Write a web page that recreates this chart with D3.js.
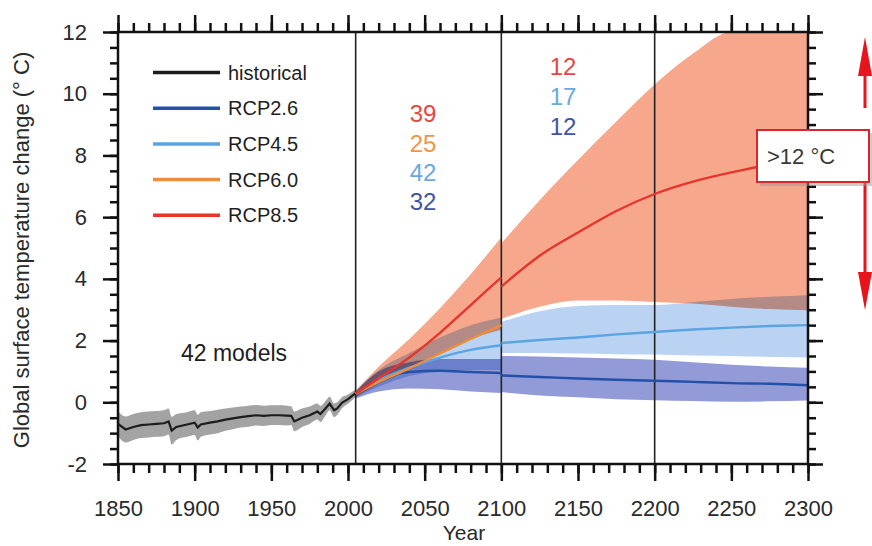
<!DOCTYPE html>
<html>
<head>
<meta charset="utf-8">
<script src="https://cdnjs.cloudflare.com/ajax/libs/d3/7.8.5/d3.min.js"></script>
<style>
body { margin:0; background:#fff; }
svg { display:block; font-family:"Liberation Sans", Arial, Helvetica, sans-serif; }
</style>
</head>
<body>
<div id="chart"></div>
<script>
// historical run (multi-model mean and half spread of the grey band)
var histYears  = [1850,1855,1860,1865,1870,1875,1880,1883,1885,1888,1895,1900,1902,1904,1910,1915,1920,1925,1930,1935,1940,1945,1950,1955,1960,1963,1965,1970,1975,1980,1982,1985,1988,1991,1993,1996,2000,2005];
var histMean   = [-0.7,-0.88,-0.8,-0.74,-0.72,-0.7,-0.68,-0.62,-0.92,-0.8,-0.72,-0.66,-0.82,-0.72,-0.66,-0.62,-0.56,-0.52,-0.48,-0.45,-0.42,-0.44,-0.42,-0.42,-0.43,-0.44,-0.62,-0.5,-0.42,-0.3,-0.38,-0.22,-0.04,-0.26,-0.2,-0.02,0.1,0.3];
var histSpread = [0.4,0.42,0.42,0.42,0.42,0.42,0.42,0.42,0.45,0.42,0.4,0.4,0.42,0.4,0.38,0.38,0.36,0.35,0.34,0.34,0.33,0.33,0.32,0.32,0.32,0.3,0.32,0.3,0.28,0.26,0.26,0.24,0.22,0.22,0.2,0.18,0.15,0.12];

// 2005-2100
var projYears  = [2005,2020,2040,2060,2080,2100];
var rcp26Mean  = [0.28,0.72,0.98,1.02,0.98,0.95];
var rcp45Mean  = [0.28,0.72,1.12,1.45,1.7,1.85];
var rcp60Mean  = [0.28,0.66,1.1,1.58,2.05,2.5];
var rcp85Mean  = [0.28,0.78,1.45,2.25,3.15,4.05];
var rcp26Lo    = [0.12,0.35,0.45,0.42,0.35,0.3];
var rcp26Hi    = [0.35,1.0,1.3,1.4,1.4,1.4];
var rcp45Lo    = [0.15,0.5,0.85,1.0,1.05,1.05];
var rcp45Hi    = [0.35,1.05,1.6,2.1,2.5,2.75];
var rcp85Lo    = [0.18,0.6,1.05,1.6,2.05,2.35];
var rcp85Hi    = [0.38,1.15,2.05,3.05,4.15,5.35];

// 2100-2300 extensions
var extYears    = [2100,2125,2150,2175,2200,2225,2250,2275,2300];
var ext26Mean   = [0.87,0.82,0.77,0.73,0.7,0.66,0.62,0.6,0.55];
var ext26Lo     = [0.33,0.22,0.16,0.1,0.07,0.04,0.02,0.03,0.06];
var ext26Hi     = [1.5,1.48,1.45,1.42,1.38,1.3,1.22,1.16,1.12];
var ext45Mean   = [1.92,2.02,2.1,2.2,2.28,2.36,2.42,2.47,2.5];
var ext45Lo     = [1.6,1.6,1.58,1.56,1.55,1.52,1.5,1.47,1.45];
var ext45Hi     = [2.6,2.95,3.12,3.15,3.15,3.25,3.35,3.42,3.47];
var ext85Mean   = [3.75,4.75,5.5,6.2,6.75,7.15,7.45,7.7,7.85];
var ext85Lo     = [2.7,3.1,3.3,3.3,3.25,3.2,3.1,3.02,2.98];
var ext85Hi     = [5.15,6.55,7.85,9.1,10.3,11.3,12.0,12.0,12.0];

var periodLines = [2005,2100,2200];
var legendNames = ["historical","RCP2.6","RCP4.5","RCP6.0","RCP8.5"];
var modelCounts2100 = ["39","25","42","32"];
var modelCounts2300 = ["12","17","12"];

var xTicks = [1850,1900,1950,2000,2050,2100,2150,2200,2250,2300];
var yTicks = [-2,0,2,4,6,8,10,12];

var col = {hist:"#1c1c1c", histBand:"#a3a3a3",
  r26:"#2350a8", r45:"#5ba4e2", r60:"#f08d3c", r85:"#e8352b",
  b26:"#929bd8", b45:"#bad3f2", b85:"#f6a78c"};

var W = 872, H = 546;
var svg = d3.select("#chart").append("svg").attr("width", W).attr("height", H);

var x = d3.scaleLinear().domain([1850,2300]).range([118,808]);
var y = d3.scaleLinear().domain([-2,12]).range([464,32]);

svg.append("clipPath").attr("id","plotclip")
  .append("rect").attr("x",118).attr("y",32).attr("width",690).attr("height",432);

function band(years, lo, hi) {
  return d3.area()
    .x(function(i){ return x(years[i]); })
    .y0(function(i){ return y(lo[i]); })
    .y1(function(i){ return y(hi[i]); })
    .curve(d3.curveMonotoneX)(d3.range(years.length));
}
function line(years, v, curve) {
  return d3.line()
    .x(function(i){ return x(years[i]); })
    .y(function(i){ return y(v[i]); })
    .curve(curve || d3.curveMonotoneX)(d3.range(years.length));
}

var plot = svg.append("g").attr("clip-path","url(#plotclip)");
var bands = plot.append("g").style("isolation","isolate");

// historical band
var hLo = histMean.map(function(m,i){ return m - histSpread[i]; });
var hHi = histMean.map(function(m,i){ return m + histSpread[i]; });
bands.append("path").attr("d", band(histYears, hLo, hHi)).attr("fill", col.histBand);

[[projYears, rcp26Lo, rcp26Hi, col.b26],
 [projYears, rcp45Lo, rcp45Hi, col.b45],
 [projYears, rcp85Lo, rcp85Hi, col.b85],
 [extYears, ext26Lo, ext26Hi, col.b26],
 [extYears, ext45Lo, ext45Hi, col.b45],
 [extYears, ext85Lo, ext85Hi, col.b85]].forEach(function(b){
  bands.append("path").attr("d", band(b[0], b[1], b[2]))
    .attr("fill", b[3]).style("mix-blend-mode","multiply");
});

// period separators
plot.selectAll(".sep").data(periodLines).enter().append("line")
  .attr("x1", function(d){ return x(d); }).attr("x2", function(d){ return x(d); })
  .attr("y1", y(12)).attr("y2", y(-2))
  .attr("stroke","#222").attr("stroke-width",1.6);

// mean lines
plot.append("path").attr("d", line(histYears, histMean, d3.curveLinear))
  .attr("fill","none").attr("stroke",col.hist).attr("stroke-width",2.2);
[[projYears, rcp26Mean, col.r26],[projYears, rcp45Mean, col.r45],
 [projYears, rcp60Mean, col.r60],[projYears, rcp85Mean, col.r85],
 [extYears, ext26Mean, col.r26],[extYears, ext45Mean, col.r45],
 [extYears, ext85Mean, col.r85]].forEach(function(l){
  plot.append("path").attr("d", line(l[0], l[1]))
    .attr("fill","none").attr("stroke", l[2]).attr("stroke-width",2.4);
});

// frame and ticks
svg.append("rect").attr("x",118).attr("y",32).attr("width",690).attr("height",432)
  .attr("fill","none").attr("stroke","#111").attr("stroke-width",2.5);

var xMinor = d3.range(1850,2301,10), yMinor = d3.range(-2,12.01,0.5);
var plain = function(d){ return String(d); };   // keeps "-2" with a hyphen
function ax(gen, scale, vals, size, tr, fmt, pad) {
  var g = svg.append("g").attr("transform", tr)
    .call(gen(scale).tickValues(vals).tickSize(size).tickSizeOuter(0).tickPadding(pad || 3).tickFormat(fmt || ""));
  g.select(".domain").remove();
  g.selectAll("line").attr("stroke","#111").attr("stroke-width",2.5);
  return g;
}
ax(d3.axisBottom, x, xMinor, 9, "translate(0,464)");
ax(d3.axisTop, x, xMinor, 9, "translate(0,32)");
ax(d3.axisLeft, y, yMinor, 8, "translate(118,0)");
ax(d3.axisRight, y, yMinor, 8, "translate(808,0)");
var xb = ax(d3.axisBottom, x, xTicks, 17, "translate(0,464)", plain, 19);
ax(d3.axisTop, x, xTicks, 17, "translate(0,32)");
var yl = ax(d3.axisLeft, y, yTicks, 15, "translate(118,0)", plain, 16);
ax(d3.axisRight, y, yTicks, 15, "translate(808,0)");
[xb, yl].forEach(function(g){
  g.selectAll("text").attr("font-size",22).attr("fill","#2a2a2a")
    .attr("font-family","Liberation Sans, Arial, sans-serif");
});

svg.append("text").attr("x",464).attr("y",540).attr("text-anchor","middle")
  .attr("font-size",21).attr("fill","#2a2a2a").text("Year");
svg.append("text").attr("transform","translate(29,250) rotate(-90)").attr("text-anchor","middle")
  .attr("font-size",22).attr("fill","#2a2a2a").text("Global surface temperature change (° C)");

// legend
var legColors = [col.hist, col.r26, col.r45, col.r60, col.r85];
var leg = svg.append("g");
legendNames.forEach(function(n,i){
  var ly = 72.5 + i*35.7;
  leg.append("line").attr("x1",153).attr("x2",220).attr("y1",ly).attr("y2",ly)
    .attr("stroke",legColors[i]).attr("stroke-width",3.5);
  leg.append("text").attr("x",228).attr("y",ly).attr("dy","0.35em")
    .attr("font-size",20).attr("fill","#1e1e1e").text(n);
});

svg.append("text").attr("x",234).attr("y",361).attr("text-anchor","middle")
  .attr("font-size",23).attr("fill","#1e1e1e").text("42 models");

// number of models
var c1 = ["#e8473f","#ef9548","#6aa8e0","#3f54a6"];
modelCounts2100.forEach(function(t,i){
  svg.append("text").attr("x",423).attr("y",[122,152,181,210][i]).attr("text-anchor","middle")
    .attr("font-size",24).attr("fill",c1[i]).text(t);
});
var c2 = ["#e8473f","#6aa8e0","#3f54a6"];
modelCounts2300.forEach(function(t,i){
  svg.append("text").attr("x",563).attr("y",75 + i*30).attr("text-anchor","middle")
    .attr("font-size",24).attr("fill",c2[i]).text(t);
});

// >12 °C call-out with arrows
var ax0 = 865;
svg.append("line").attr("x1",ax0).attr("x2",ax0).attr("y1",108).attr("y2",70)
  .attr("stroke","#e8141b").attr("stroke-width",3);
svg.append("path").attr("d","M"+ax0+",37 L"+(ax0+7)+",76 L"+(ax0-7)+",76 Z").attr("fill","#e8141b");
svg.append("line").attr("x1",ax0).attr("x2",ax0).attr("y1",183).attr("y2",278)
  .attr("stroke","#e8141b").attr("stroke-width",3);
svg.append("path").attr("d","M"+ax0+",310 L"+(ax0+7)+",272 L"+(ax0-7)+",272 Z").attr("fill","#e8141b");

svg.append("rect").attr("x",760).attr("y",133).attr("width",112).attr("height",53)
  .attr("fill","#999").attr("opacity",0.5);
svg.append("rect").attr("x",757).attr("y",130).attr("width",112).attr("height",52)
  .attr("fill","#fff").attr("stroke","#d8262c").attr("stroke-width",2);
svg.append("text").attr("x",767).attr("y",164).attr("font-size",22).attr("fill","#3a3a3a")
  .text(">12 °C");
</script>
</body>
</html>
